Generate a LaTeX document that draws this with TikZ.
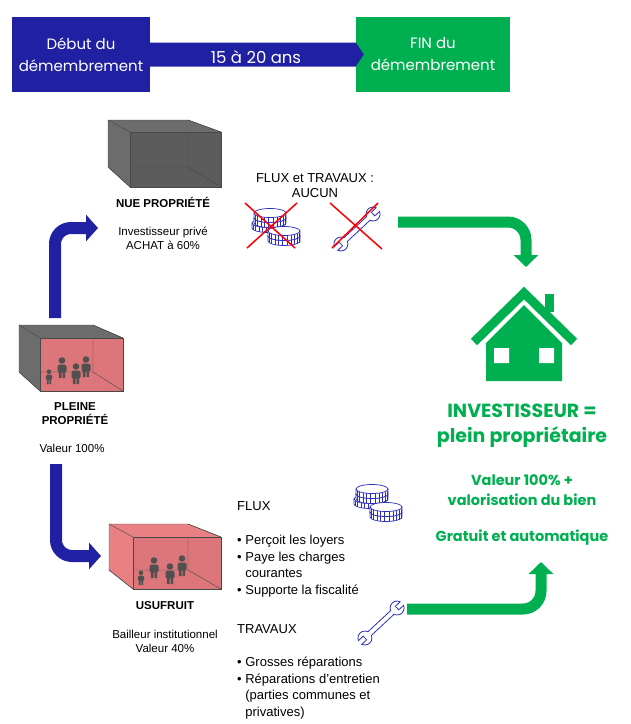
\documentclass[tikz,border=0pt]{standalone}
\usepackage{fontspec}
\setmainfont{Liberation Sans}
\newfontfamily\gothic{Poppins}
\usetikzlibrary{arrows.meta}
\definecolor{banblue}{RGB}{32,32,162}
\definecolor{fingreen}{RGB}{0,176,80}
\definecolor{boxgray}{RGB}{108,108,108}
\definecolor{frontgray}{RGB}{92,92,92}
\definecolor{edgegray}{RGB}{72,72,72}
\definecolor{roompink}{RGB}{220,118,122}
\definecolor{sidepink}{RGB}{232,128,132}
\definecolor{iconblue}{RGB}{45,45,190}
\definecolor{figgray}{RGB}{80,80,80}

\newcommand{\room}[6]{%
  \coordinate (bk1) at (#1); \coordinate (bk2) at (#2);
  \coordinate (fr1) at (#3); \coordinate (fr2) at (#4);
  \filldraw[fill=#5, draw=edgegray] (bk1) -- (bk2 |- bk1) -- (fr2 |- fr1) -- (fr2) -- (fr1 |- fr2) -- (bk1 |- bk2) -- cycle;
  \filldraw[fill=#6, draw=edgegray] (fr1) rectangle (fr2);
  \draw[edgegray] (bk1) -- (fr1) (bk2 |- bk1) -- (fr2 |- fr1) (bk1 |- bk2) -- (fr1 |- fr2);
  \draw[edgegray, thin] (bk2 |- fr1) -- (bk2) -- (fr1 |- bk2) (bk2) -- (fr2);
}
\newcommand{\coins}[1]{%
  \begin{scope}[shift={(#1)}]
    \pic at (15,15) {coin};
    \foreach \cy in {10,5} \pic at (17,\cy) {coin};
    \foreach \cy in {28,23} \pic at (31,\cy) {coin};
  \end{scope}
}

\begin{document}
\begin{tikzpicture}[x=1pt, y=-1pt,
  banbox/.style={minimum height=75, inner sep=0, text=white, align=center, font=\gothic\fontsize{15}{22}\selectfont},
  capt/.style={align=center, inner sep=0, font=\fontsize{11.5}{14}\selectfont},
  captb/.style={align=center, inner sep=0, font=\fontsize{11.5}{13.5}\selectfont\bfseries},
  list/.style={align=left, anchor=north west, inner sep=0, font=\fontsize{13}{16.5}\selectfont},
  gtext/.style={text=fingreen, align=center, inner sep=0},
  barrow/.style={banblue, line width=12, rounded corners=16, -{Triangle[length=12pt, width=26pt]}},
  garrow/.style={fingreen, line width=11, rounded corners=18, -{Triangle[length=12pt, width=24pt]}},
  cross/.style={red, line width=1.5},
  coin/.pic={
    \filldraw[iconblue, fill=white, line width=0.7] (-16,0) -- (-16,5) arc[start angle=180, end angle=0, x radius=16, y radius=4.5] -- (16,0) -- cycle;
    \filldraw[iconblue, fill=white, line width=0.7] (0,0) ellipse[x radius=16, y radius=4.5];
    \foreach \a in {20,35,...,165} \draw[iconblue, line width=0.5] (\a:16 and 4.5) -- ++(0,5);
  },
  person/.pic={
    \fill[figgray] (0,-17.5) circle[radius=3.3];
    \fill[figgray, rounded corners=1.5] (-4.5,-13.5) rectangle (4.5,-5.5);
    \fill[figgray] (-3.2,-6) rectangle (-0.5,0) (0.5,-6) rectangle (3.2,0);
  },
  wrench/.pic={
    \filldraw[iconblue, fill=white, line width=0.8] (15.46,-2.5) arc[start angle=200.9, end angle=339.1, radius=7] -- (22,-2.5) -- (22,2.5) -- (28.54,2.5)
      arc[start angle=20.9, end angle=159.1, radius=7] -- (-15.46,2.5) arc[start angle=20.9, end angle=159.1, radius=7] -- (-22,2.5) -- (-22,-2.5) -- (-28.54,-2.5)
      arc[start angle=200.9, end angle=339.1, radius=7] -- cycle;
  }]
\useasboundingbox (0,0) rectangle (631,724);

\node[banbox, fill=banblue, minimum width=138] (debut) at (81,54.5) {Début du\\démembrement};
\node[banbox, fill=fingreen, minimum width=154] (fin) at (433,54.5) {FIN du\\démembrement};
\fill[banblue] ([yshift=12]debut.east) -- ([yshift=12]fin.west) -- ([xshift=8]fin.west) -- ([yshift=-12]fin.west) -- ([yshift=-12]debut.east) -- cycle;
\node[text=white, inner sep=0, font=\gothic\fontsize{16.5}{22}\selectfont] (duree) at (256,57) {15 à 20 ans};

\room{108,120}{188,167}{130,132}{221,187}{boxgray}{frontgray}
\node[captb] (nue) at (163,202) {NUE PROPRIÉTÉ};
\node[capt] (nueval) at (163,238) {Investisseur privé\\ACHAT à 60\%};

\room{19,325}{93,372}{40,338}{123,391}{boxgray}{roompink}
\pic[scale=0.7] at (49,384) {person};
\pic at (62,378) {person};
\pic at (76,384) {person};
\pic at (86,377) {person};
\node[captb] (pleine) at (75,413.5) {PLEINE\\PROPRIÉTÉ};
\node[capt] (pleineval) at (72,448) {Valeur 100\%};

\room{109,524}{188,570}{133,537}{221,589}{sidepink}{roompink}
\pic[scale=0.7] at (141,585) {person};
\pic at (154,578) {person};
\pic at (170,584) {person};
\pic at (182,576) {person};
\node[captb] (usu) at (165,606) {USUFRUIT};
\node[capt] (usuval) at (165,641) {Bailleur institutionnel\\Valeur 40\%};

\coordinate (pleineN) at (55,318);
\coordinate (nueW) at (98,228);
\coordinate (pleineS) at (56,464);
\coordinate (usuW) at (101,556);
\draw[barrow] (pleineN) |- (nueW);
\draw[barrow] (pleineS) |- (usuW);

\node[inner sep=0, align=center, font=\fontsize{13}{15}\selectfont] (aucun) at (315,185.5) {FLUX et TRAVAUX :\\AUCUN};
\coins{253,208}
\draw[cross] (245,203) -- (295,248) (297,203) -- (247,248);
\pic[rotate=43] at (357,229) {wrench};
\draw[cross] (330,203) -- (382,249) (378,203) -- (332,248);

\node[list, anchor=west] (flux) at (237,506) {FLUX};
\coins{355,484}
\node[list] (fluxlist) at (237,535) {\textbullet\ Perçoit les loyers\\\textbullet\ Paye les charges\\\hphantom{\textbullet\ }courantes\\\textbullet\ Supporte la fiscalité};
\node[list, anchor=west] (trav) at (237,629) {TRAVAUX};
\pic[rotate=43] at (381,623) {wrench};
\node[list] (travlist) at (237,657) {\textbullet\ Grosses réparations\\\textbullet\ Réparations d’entretien\\\hphantom{\textbullet\ }(parties communes et\\\hphantom{\textbullet\ }privatives)};

\fill[fingreen] (545,294) rectangle (554,312);
\draw[fingreen, line width=9] (474,342) -- (524,293) -- (574,342);
\fill[fingreen] (486,381) -- (486,343) -- (524,305) -- (562,343) -- (562,381) -- cycle;
\fill[white] (494,348) rectangle (509,363) (539,348) rectangle (554,363);

\node[gtext, font=\gothic\bfseries\fontsize{19}{25}\selectfont] (invest) at (522,425.5) {INVESTISSEUR =\\plein propriétaire};
\node[gtext, font=\gothic\bfseries\fontsize{14.5}{20}\selectfont] (valeur) at (522,490) {Valeur 100\% +\\valorisation du bien};
\node[gtext, font=\gothic\bfseries\fontsize{14.5}{20}\selectfont] (gratuit) at (522,538) {Gratuit et automatique};

\coordinate (croixE) at (398,222);
\coordinate (maisonN) at (526,267);
\coordinate (travE) at (407,609);
\coordinate (maisonS) at (541,562);
\draw[garrow] (croixE) -| (maisonN);
\draw[garrow] (travE) -| (maisonS);
\end{tikzpicture}
\end{document}
